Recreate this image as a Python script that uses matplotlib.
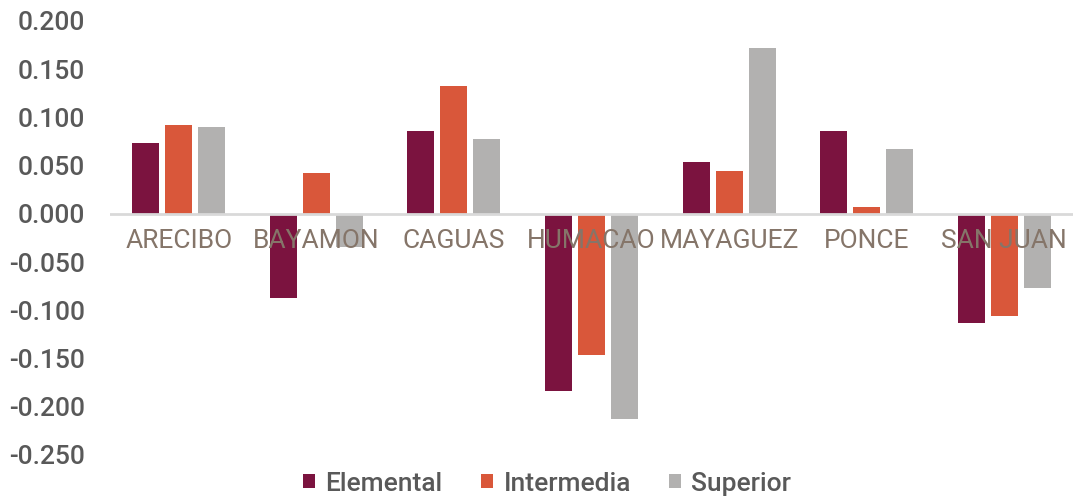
import numpy as np
import matplotlib
matplotlib.use("Agg")
import matplotlib.pyplot as plt

plt.rcParams['font.family'] = ['Roboto', 'DejaVu Sans']
plt.rcParams['font.weight'] = 'medium'

# datos
regiones = ["ARECIBO", "BAYAMON", "CAGUAS", "HUMACAO", "MAYAGUEZ", "PONCE", "SAN JUAN"]
elemental = [0.074, -0.087, 0.086, -0.184, 0.054, 0.086, -0.113]
intermedia = [0.092, 0.042, 0.133, -0.146, 0.044, 0.007, -0.106]
superior = [0.090, -0.034, 0.078, -0.213, 0.172, 0.067, -0.077]
series = ["Elemental", "Intermedia", "Superior"]
colores = ["#7b133f", "#d9573a", "#b2b1b0"]
yticks = [-0.25, -0.2, -0.15, -0.1, -0.05, 0.0, 0.05, 0.1, 0.15, 0.2]

fig = plt.figure(figsize=(10.73, 4.97), dpi=100)
ax = fig.add_axes([110/1073, 1 - 455/497, 1 - 110/1073, (455 - 21)/497])

x = np.arange(len(regiones))
ancho = 0.196
paso = 0.24
for k, (vals, nombre, c) in enumerate(zip([elemental, intermedia, superior], series, colores)):
    ax.bar(x + (k - 1)*paso, vals, ancho, color=c, label=nombre, zorder=2)

ax.axhline(0, color="#d9d9d9", lw=2, zorder=3)

# etiquetas de categoria sobre las barras
for i, r in enumerate(regiones):
    ax.text(i, -0.028, r, ha="center", va="center", fontsize=19, color="#857569",
            fontweight="normal", zorder=4)

ax.set_xlim(-0.5, len(regiones) - 0.5)
ax.set_ylim(-0.25, 0.2)
ax.set_yticks(yticks)
ax.set_yticklabels(["%.3f" % v for v in yticks])
ax.tick_params(axis="y", length=0, pad=18, labelsize=19, labelcolor="#595959")
ax.set_xticks([])
for s in ax.spines.values():
    s.set_visible(False)

fig.legend(loc="lower center", bbox_to_anchor=(0.51, -0.045), ncol=3, frameon=False,
           fontsize=19, labelcolor="#595959", handlelength=0.45, handleheight=0.45,
           handletextpad=0.4, columnspacing=1.45)

plt.savefig("out.png", dpi=100)
